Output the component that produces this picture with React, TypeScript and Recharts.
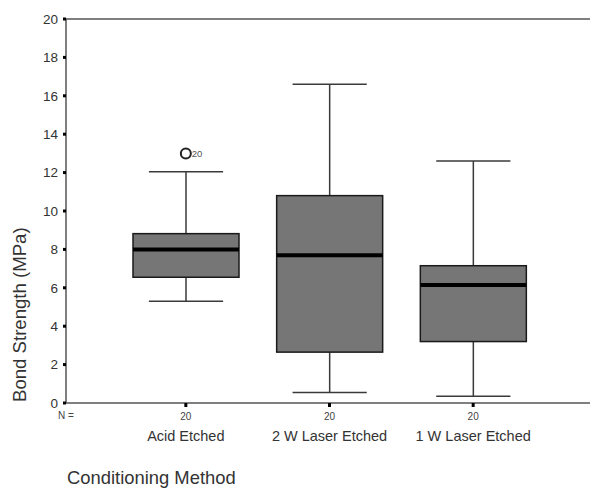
import React from "react";
import { ComposedChart, Bar, XAxis, YAxis, ReferenceLine, Scatter } from "recharts";

const categories = ["Acid Etched", "2 W Laser Etched", "1 W Laser Etched"];
const nCounts = [20, 20, 20];
const whiskerLow = [5.3, 0.55, 0.35];
const q1 = [6.55, 2.65, 3.2];
const median = [8.0, 7.7, 6.15];
const q3 = [8.82, 10.8, 7.15];
const whiskerHigh = [12.05, 16.6, 12.6];
const outlierValues: (number | null)[] = [13.0, null, null];
const outlierLabels = ["20", "", ""];
const yTicks = [0, 2, 4, 6, 8, 10, 12, 14, 16, 18, 20];

const FONT = "'Liberation Sans', Arial, sans-serif";

const data = categories.map((c, i) => ({
  name: c,
  n: nCounts[i],
  low: whiskerLow[i],
  q1: q1[i],
  median: median[i],
  q3: q3[i],
  high: whiskerHigh[i],
  outlier: outlierValues[i],
  outlierLabel: outlierLabels[i],
}));

const BoxShape = (props: any) => {
  const { x, y, width, height, payload } = props;
  const top = Math.min(y, y + height);
  const h = Math.abs(height);
  const unit = h / (payload.q3 - payload.q1);
  const yOf = (v: number) => top + (payload.q3 - v) * unit;
  const cx = x + width / 2;
  const capW = width * 0.7;
  const wStroke = "#3a3a3a";
  return (
    <g>
      <line x1={cx} x2={cx} y1={yOf(payload.high)} y2={top} stroke={wStroke} strokeWidth={1.5} />
      <line x1={cx - capW / 2} x2={cx + capW / 2} y1={yOf(payload.high)} y2={yOf(payload.high)} stroke={wStroke} strokeWidth={1.5} />
      <line x1={cx} x2={cx} y1={top + h} y2={yOf(payload.low)} stroke={wStroke} strokeWidth={1.5} />
      <line x1={cx - capW / 2} x2={cx + capW / 2} y1={yOf(payload.low)} y2={yOf(payload.low)} stroke={wStroke} strokeWidth={1.5} />
      <rect x={x} y={top} width={width} height={h} fill="#767676" stroke="#1a1a1a" strokeWidth={1.5} />
      <line x1={x} x2={x + width} y1={yOf(payload.median)} y2={yOf(payload.median)} stroke="#000" strokeWidth={4} />
    </g>
  );
};

const OutlierShape = (props: any) => {
  const { cx, cy, payload } = props;
  if (cx == null || cy == null || payload.outlier == null) return <g />;
  return (
    <g>
      <circle cx={cx} cy={cy} r={5} fill="#fff" stroke="#222" strokeWidth={2} />
      <text x={cx + 6} y={cy + 3.5} fontSize={9.5} fill="#555" fontFamily={FONT}>
        {payload.outlierLabel}
      </text>
    </g>
  );
};

const XTick = (props: any) => {
  const { x, y, index, payload } = props;
  return (
    <g>
      <text x={x} y={y + 11} textAnchor="middle" fontSize={10} fill="#444" fontFamily={FONT}>
        {nCounts[index]}
      </text>
      <text x={x} y={y + 32} textAnchor="middle" fontSize={14.5} fill="#333" fontFamily={FONT}>
        {payload.value}
      </text>
    </g>
  );
};

const XLabel = (props: any) => {
  const vb = props.viewBox || { x: 66, y: 403 };
  return (
    <g>
      <text x={vb.x - 8} y={vb.y + 16} fontSize={10} fill="#444" fontFamily={FONT}>
        N =
      </text>
      <text x={vb.x + 1} y={vb.y + 81} fontSize={18.4} fill="#333" fontFamily={FONT}>
        Conditioning Method
      </text>
    </g>
  );
};

const YLabel = (props: any) => {
  const vb = props.viewBox || { x: 0, y: 19, height: 384 };
  const cx = 26;
  const cy = vb.y + vb.height * 0.77;
  return (
    <text
      x={cx}
      y={cy}
      transform={`rotate(-90, ${cx}, ${cy})`}
      textAnchor="middle"
      fontSize={18.6}
      fill="#333"
      fontFamily={FONT}
    >
      Bond Strength (MPa)
    </text>
  );
};

export default function App() {
  return (
    <div style={{ position: "absolute", left: 0, top: 0, background: "#fff" }}>
      <ComposedChart
        width={590}
        height={489}
        data={data}
        margin={{ top: 19, right: 0, bottom: 56, left: 0 }}
        barGap={0}
      >
        <XAxis
          dataKey="name"
          type="category"
          height={30}
          padding={{ left: 48, right: 45 }}
          axisLine={{ stroke: "#555", strokeWidth: 1.5 }}
          tickLine={{ stroke: "#000", strokeWidth: 3 }}
          tickSize={4}
          tick={<XTick />}
          interval={0}
          label={<XLabel />}
        />
        <YAxis
          type="number"
          domain={[0, 20]}
          ticks={yTicks}
          width={66}
          axisLine={{ stroke: "#555", strokeWidth: 1.5 }}
          tickLine={{ stroke: "#000", strokeWidth: 3 }}
          tickSize={3}
          tickMargin={5}
          tick={{ fontSize: 13.5, fill: "#333", fontFamily: FONT }}
          interval={0}
          label={<YLabel />}
        />
        <ReferenceLine y={20} stroke="#555" strokeWidth={1.5} ifOverflow="extendDomain" />
        <Bar
          dataKey={(d: any) => [d.q1, d.q3]}
          barSize={106}
          shape={<BoxShape />}
          isAnimationActive={false}
        />
        <Scatter dataKey="outlier" shape={<OutlierShape />} isAnimationActive={false} />
      </ComposedChart>
    </div>
  );
}
